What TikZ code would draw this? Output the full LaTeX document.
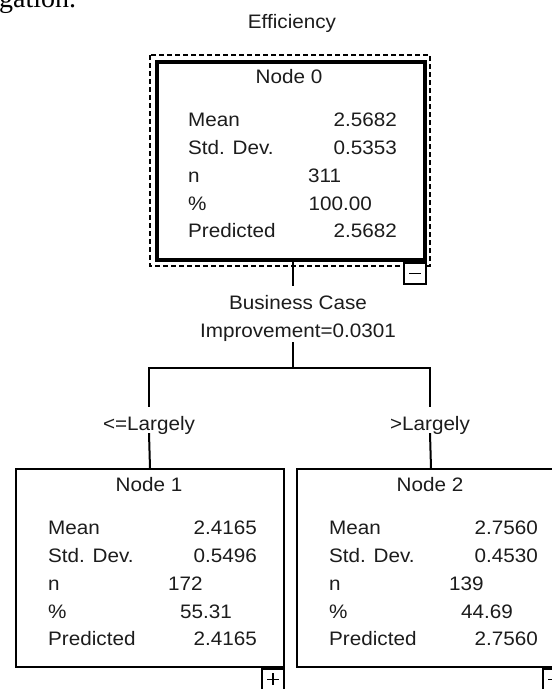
\documentclass[tikz,border=0pt]{standalone}
\usepackage{fontspec}
\setmainfont[FakeStretch=1.06]{Liberation Sans}
\newfontfamily\serifcut{Liberation Serif}
\usetikzlibrary{calc}
\definecolor{ink}{HTML}{1C1C1C}
\newcommand\statrows[7]{%
  \node[txt,anchor=base] (#1-title) at ($(#1.north west)+(134,23)$) {#2};
  \node[txt,anchor=base west] (#1-l1) at ($(#1.north west)+(33,66)$) {Mean};
  \node[txt,anchor=base west] (#1-l2) at ($(#1.north west)+(33,94)$) {Std. Dev.};
  \node[txt,anchor=base west] (#1-l3) at ($(#1.north west)+(33,122)$) {n};
  \node[txt,anchor=base west] (#1-l4) at ($(#1.north west)+(33,150)$) {\%};
  \node[txt,anchor=base west] (#1-l5) at ($(#1.north west)+(33,177)$) {Predicted};
  \node[txt,anchor=base east] (#1-v1) at ($(#1.north west)+(242,66)$) {#3};
  \node[txt,anchor=base east] (#1-v2) at ($(#1.north west)+(242,94)$) {#4};
  \node[txt,anchor=base west] (#1-v3) at ($(#1.north west)+(153,122)$) {#5};
  \node[txt,anchor=base east] (#1-v4) at ($(#1.north west)+(217,150)$) {#6};
  \node[txt,anchor=base east] (#1-v5) at ($(#1.north west)+(242,177)$) {#7};
}
\begin{document}
\begin{tikzpicture}[x=1pt,y=-1pt,
  txt/.style={inner sep=0pt, text=ink, font=\fontsize{19.5}{23}\selectfont},
  lbl/.style={txt, anchor=base, text height=23pt, text depth=3pt},
  box/.style={draw=black, line width=2pt, minimum width=268pt, minimum height=198pt, anchor=north west, inner sep=0pt, fill=white},
  conn/.style={draw=black, line width=2pt},
  tog/.style={draw=black, line width=1.6pt, minimum width=22pt, minimum height=21pt, anchor=north east, inner sep=0pt, fill=white},
  sign/.style={draw=black, line width=1.6pt}]
\path[use as bounding box] (0,0) rectangle (552,689);
\clip (0,0) rectangle (552,689);
\fill[white] (0,0) rectangle (552,689);

% cut-off text fragment at top left
\node[anchor=base west, inner sep=0pt, text=black, font=\serifcut\fontsize{28}{30}\selectfont] (frag) at (-1,7) {gation.};

% dependent variable title
\node[txt, anchor=base] (dep) at (292,28) {Efficiency};

% Node 0 (root)
\node[box, line width=4pt] (n0) at (155,60) {};
\draw[line width=2pt, dash pattern=on 5pt off 3pt] ($(n0.north west)+(-5,-5)$) rectangle ($(n0.south east)+(3,4)$);
\statrows{n0}{Node 0}{2.5682}{0.5353}{311}{100.00}{2.5682}
\node[tog] (n0tog) at (n0.south east) {};
\draw[sign] ($(n0tog.center)+(-6,0)$) -- ($(n0tog.center)+(6,0)$);

% split
\coordinate (c0) at ($(n0.south)+(2,0)$);
\node[txt, anchor=base, text height=23pt, text depth=0pt] (split) at (298,309) {Business Case};
\node[txt, anchor=base, text height=14pt, text depth=5pt] (impr) at (298,337) {Improvement=0.0301};
\coordinate (fork) at ($(c0)+(0,106)$);
\draw[conn] (c0) -- (c0 |- split.north);
\draw[conn] (c0 |- impr.south) -- (fork);

% branch labels
\node[lbl] (l1) at (149,430) {<=Largely};
\node[lbl] (l2) at (430,430) {>Largely};
\draw[conn] (l1.north) |- (fork) -| (l2.north);

% Node 1
\node[box] (n1) at (15,468) {};
\statrows{n1}{Node 1}{2.4165}{0.5496}{172}{55.31}{2.4165}
\node[tog] (n1tog) at (n1.south east) {};
\draw[sign] ($(n1tog.center)+(-6,0)$) -- ($(n1tog.center)+(6,0)$);
\draw[sign] ($(n1tog.center)+(0,-6)$) -- ($(n1tog.center)+(0,6)$);

% Node 2
\node[box] (n2) at (296,468) {};
\statrows{n2}{Node 2}{2.7560}{0.4530}{139}{44.69}{2.7560}
\node[tog] (n2tog) at (n2.south east) {};
\draw[sign] ($(n2tog.center)+(-6,0)$) -- ($(n2tog.center)+(6,0)$);

\draw[conn] (l1.south) -- (n1.north);
\draw[conn] (l2.south) -- (n2.north);
\end{tikzpicture}
\end{document}
